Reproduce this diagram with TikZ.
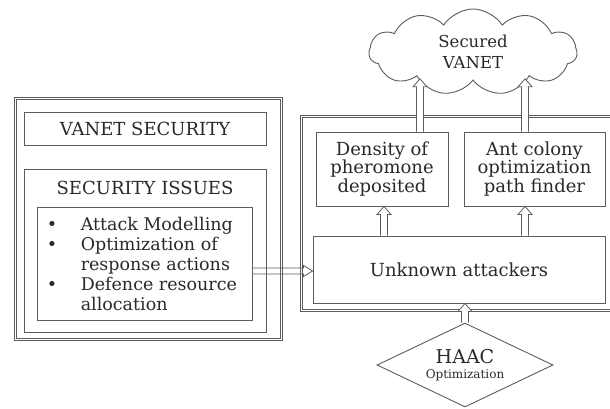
\documentclass[tikz,border=0pt]{standalone}
\usepackage{fontspec}
\setmainfont{DejaVu Serif}
\usetikzlibrary{shapes.geometric,shapes.symbols,calc}

\definecolor{ink}{HTML}{2A2A2A}
\definecolor{frame}{HTML}{5C5C5C}

\tikzset{
  box/.style={draw=frame, line width=0.9pt, rectangle, inner sep=0pt,
    text=ink, align=center, font=\fontsize{18}{18.5}\selectfont},
  caption/.style={text=ink, inner sep=0pt, align=center, font=\fontsize{18}{18.5}\selectfont},
  outerbox/.style={rectangle, draw=frame, line width=0.7pt, inner sep=0pt},
  innerline/.style={draw=frame, line width=0.7pt},
  blockarr/.style={draw=frame, line width=0.8pt, line join=miter},
}

% hollow block arrow pointing up, from #2 to the height of #3
\newcommand\arrowup[3][white]{%
  \path[blockarr, fill=#1] let \p1=#2, \p2=#3 in
    (\x1-3.5pt,\y1) -- (\x1-3.5pt,\y2-8pt) -- (\x1-7pt,\y2-8pt) -- (\x1,\y2)
    -- (\x1+7pt,\y2-8pt) -- (\x1+3.5pt,\y2-8pt) -- (\x1+3.5pt,\y1);}
% hollow block arrow pointing right, from #1 to the x of #2
\newcommand\arrowright[2]{%
  \path[blockarr] let \p1=#1, \p2=#2 in
    (\x1,\y1+3pt) -- (\x2-9pt,\y1+3pt) -- (\x2-9pt,\y1+5.5pt) -- (\x2,\y1)
    -- (\x2-9pt,\y1-5.5pt) -- (\x2-9pt,\y1-3pt) -- (\x1,\y1-3pt);}
% second, inner line of a double frame
\newcommand\innerframe[1]{%
  \draw[innerline] ($(#1.north west)+(2.2,2.2)$) rectangle ($(#1.south east)+(-2.2,-2.2)$);}

\begin{document}
\begin{tikzpicture}[x=1pt, y=-1pt]
  \clip (0,0) rectangle (610,408);
  \fill[white] (0,0) rectangle (610,408);

  % left panel
  \node[outerbox, minimum width=268pt, minimum height=243pt] (leftouter) at (148,218.5) {};
  \innerframe{leftouter}
  \node[box, minimum width=242pt, minimum height=33pt] (vsec) at (145,128.5) {VANET SECURITY};
  \node[box, minimum width=242pt, minimum height=163pt] (issues) at (145,250.5) {};
  \node[caption] (issuestitle) at (145,188) {SECURITY ISSUES};
  \node[box, minimum width=215pt, minimum height=113pt] (bullets) at (144.5,263.5) {};
  \node[caption, anchor=west, align=left] (blist) at ($(bullets.west)+(10,3)$)
    {\fontsize{17.5}{20}\selectfont
     \begin{tabular}{@{}p{34pt}@{}l@{}}
       \textbullet & Attack Modelling\\
       \textbullet & Optimization of\\
                   & response actions\\
       \textbullet & Defence resource\\
                   & allocation
     \end{tabular}};

  % right panel
  \node[outerbox, minimum width=325pt, minimum height=196pt] (rightouter) at (462.5,213) {};
  \innerframe{rightouter}
  \node[box, minimum width=132pt, minimum height=74pt] (density) at (382,169)
    {Density of\\pheromone\\deposited};
  \node[box, minimum width=141pt, minimum height=74pt] (ant) at (534.5,169)
    {Ant colony\\optimization\\path finder};
  \node[box, minimum width=292pt, minimum height=67pt] (unknown) at (459,269.5)
    {Unknown attackers};

  \node[cloud, draw=frame, line width=0.9pt, fill=white, cloud puffs=11,
    cloud puff arc=115, aspect=2.4, minimum width=208pt, minimum height=86pt,
    inner sep=0pt, text=ink, align=center, font=\fontsize{16.5}{21}\selectfont]
    (cloud) at (473,52) {Secured\\VANET};

  \node[diamond, draw=frame, line width=0.9pt, aspect=2.1, minimum width=176pt,
    minimum height=84pt, inner sep=0pt, text=ink, align=center]
    (diamond) at (465,365)
    {{\fontsize{19}{19}\selectfont HAAC}\\[3pt]{\fontsize{12}{13}\selectfont Optimization}};

  % connectors
  \arrowright{($(bullets.east)+(0,7.5)$)}{(unknown.west)}
  \arrowup{($(unknown.north)+(-75,0)$)}{(density.south)}
  \arrowup{($(unknown.north)+(66,0)$)}{(ant.south)}
  \arrowup{($(density.north)+(38,0)$)}{($(cloud.south)+(0,-2)$)}
  \arrowup{($(ant.north)+(-9.5,0)$)}{($(cloud.south)+(0,-2)$)}
  \arrowup{(diamond.north)}{(unknown.south)}
\end{tikzpicture}
\end{document}
